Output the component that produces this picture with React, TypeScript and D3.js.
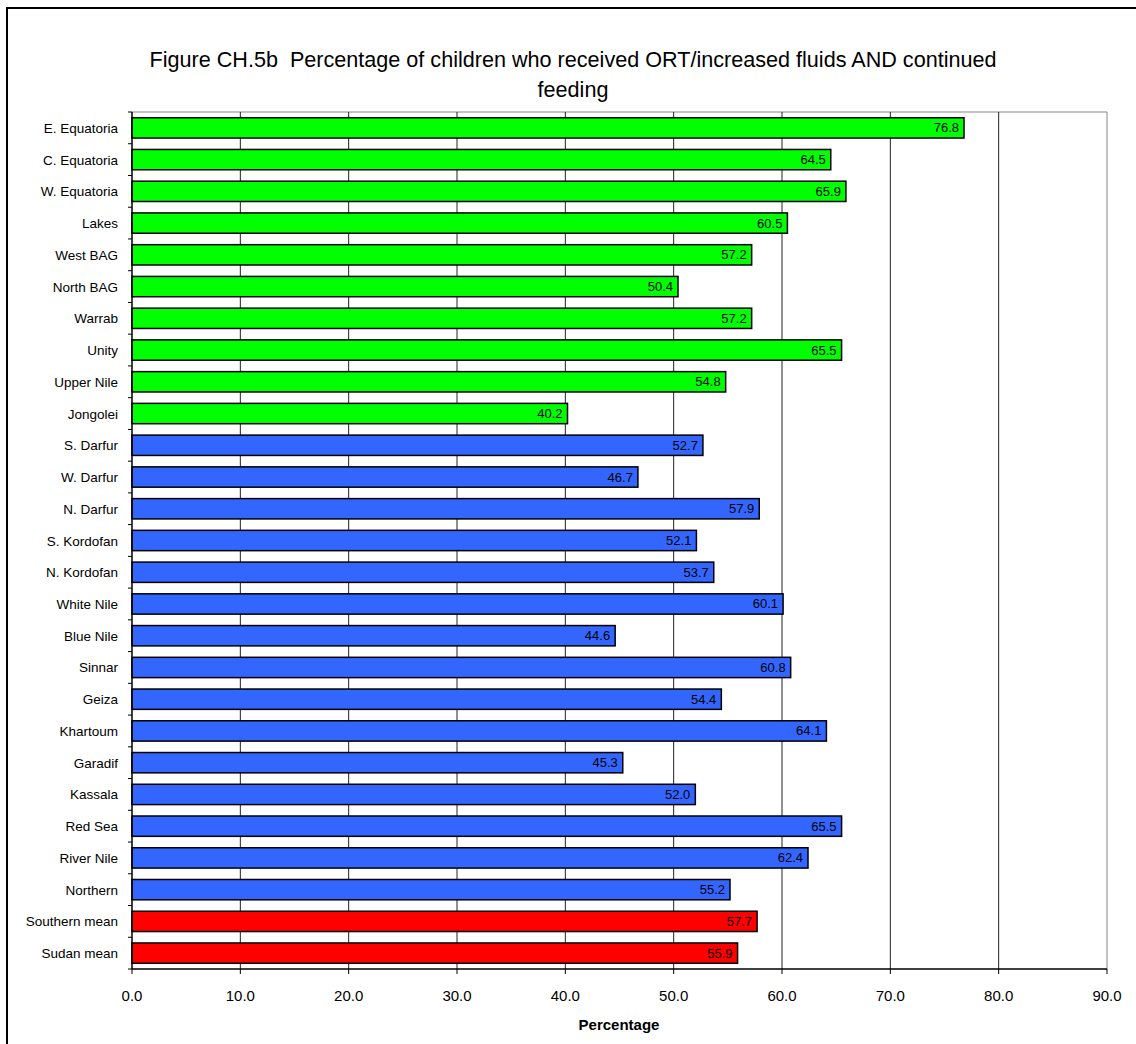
import React from "react";
import * as d3 from "d3";

const categories = [
  "E. Equatoria", "C. Equatoria", "W. Equatoria", "Lakes", "West BAG", "North BAG",
  "Warrab", "Unity", "Upper Nile", "Jongolei", "S. Darfur", "W. Darfur", "N. Darfur",
  "S. Kordofan", "N. Kordofan", "White Nile", "Blue Nile", "Sinnar", "Geiza", "Khartoum",
  "Garadif", "Kassala", "Red Sea", "River Nile", "Northern", "Southern mean", "Sudan mean",
];
const values = [
  76.8, 64.5, 65.9, 60.5, 57.2, 50.4, 57.2, 65.5, 54.8, 40.2, 52.7, 46.7, 57.9,
  52.1, 53.7, 60.1, 44.6, 60.8, 54.4, 64.1, 45.3, 52.0, 65.5, 62.4, 55.2, 57.7, 55.9,
];
const groups = [
  "south", "south", "south", "south", "south", "south", "south", "south", "south", "south",
  "north", "north", "north", "north", "north", "north", "north", "north", "north", "north",
  "north", "north", "north", "north", "north", "mean", "mean",
];
const xTicks = [0, 10, 20, 30, 40, 50, 60, 70, 80, 90];
const titleLines = [
  "Figure CH.5b  Percentage of children who received ORT/increased fluids AND continued",
  "feeding",
];
const xAxisTitle = "Percentage";

const colorMap: Record<string, string> = { south: "#00FF00", north: "#3366FF", mean: "#FF0000" };

export default function App() {
  const W = 1136, H = 1044;
  const left = 132, right = 1107, top = 112, bottom = 969;
  const x = d3.scaleLinear().domain([0, 90]).range([left, right]);
  const y = d3.scaleBand().domain(categories).range([top, bottom]).paddingInner(0.36).paddingOuter(0.18);
  const font = "'Liberation Sans', Arial, sans-serif";
  const bandStep = y.step();
  return (
    <svg width={W} height={H} style={{ position: "absolute", left: 0, top: 0 }} fontFamily={font}>
      <rect x={0} y={0} width={W} height={H} fill="#fff" />
      <rect x={7} y={8} width={W + 10} height={H + 10} fill="none" stroke="#000" strokeWidth={2} />
      {titleLines.map((t, i) => (
        <text key={i} x={573} y={67 + i * 30} textAnchor="middle" fontSize={21.6} fill="#000"
          style={{ whiteSpace: "pre" }}>{t}</text>
      ))}
      {/* plot frame */}
      <line x1={left} x2={right} y1={top} y2={top} stroke="#888" strokeWidth={1} />
      <line x1={right} x2={right} y1={top} y2={bottom} stroke="#888" strokeWidth={1} />
      {xTicks.slice(1, -1).map((t) => (
        <line key={t} x1={x(t)} x2={x(t)} y1={top} y2={bottom} stroke="#222" strokeWidth={1} />
      ))}
      {categories.map((c, i) => (
        <g key={c}>
          <rect x={x(0)} y={y(c)!} width={x(values[i]) - x(0)} height={y.bandwidth()}
            fill={colorMap[groups[i]]} stroke="#000" strokeWidth={1.5} />
          <text x={x(values[i]) - 5} y={y(c)! + y.bandwidth() / 2 + 4.5} textAnchor="end" fontSize={13} fill="#000">
            {values[i].toFixed(1)}
          </text>
          <text x={118} y={y(c)! + y.bandwidth() / 2 + 5} textAnchor="end" fontSize={13.5} fill="#000">{c}</text>
        </g>
      ))}
      {/* y axis ticks at band boundaries */}
      {d3.range(categories.length + 1).map((i) => (
        <line key={i} x1={left - 4} x2={left} y1={top + i * bandStep} y2={top + i * bandStep} stroke="#000" strokeWidth={1} />
      ))}
      <line x1={left} x2={left} y1={top} y2={bottom} stroke="#000" strokeWidth={1.5} />
      <line x1={left} x2={right} y1={bottom} y2={bottom} stroke="#000" strokeWidth={1.5} />
      {xTicks.map((t) => (
        <g key={t}>
          <line x1={x(t)} x2={x(t)} y1={bottom} y2={bottom + 5} stroke="#000" strokeWidth={1} />
          <text x={x(t)} y={bottom + 32} textAnchor="middle" fontSize={15} fill="#000">{t.toFixed(1)}</text>
        </g>
      ))}
      <text x={619} y={1030} textAnchor="middle" fontSize={15} fontWeight="bold" fill="#000">{xAxisTitle}</text>
    </svg>
  );
}
